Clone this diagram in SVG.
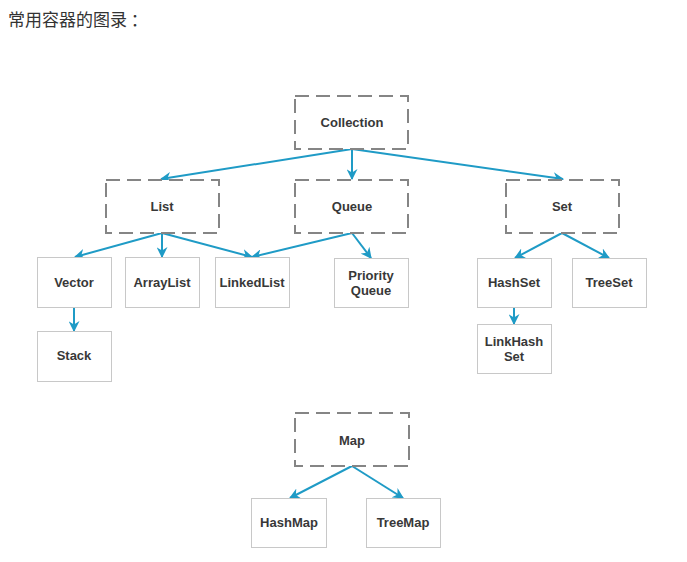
<svg xmlns="http://www.w3.org/2000/svg" width="687" height="562" viewBox="0 0 687 562">
  <style>
    .title { font-family: "Noto Sans CJK SC", "Liberation Sans", sans-serif; font-size: 17px; fill: #333333; }
    .abs { fill: #ffffff; stroke: #858585; stroke-width: 2; stroke-dasharray: 14 7; }
    .cls { fill: #ffffff; stroke: #c8c8c8; stroke-width: 1; }
    .lbl { font-family: "Liberation Sans", Arial, sans-serif; font-size: 13px; font-weight: bold; fill: #383838; text-anchor: middle; }
    .edge { stroke: #1f9bc6; stroke-width: 2; fill: none; marker-end: url(#arrow); }
  </style>
  <defs>
    <marker id="arrow" viewBox="0 0 10 10" refX="9" refY="5" markerWidth="5.5" markerHeight="5.5" orient="auto" markerUnits="strokeWidth">
      <path d="M0,0 L10,5 L0,10 L3,5 z" fill="#1f9bc6"/>
    </marker>
  </defs>
  <rect width="687" height="562" fill="#ffffff"/>
  <text class="title" x="8" y="26">常用容器的图录 ：</text>

  <g id="connectors">
    <line class="edge" x1="352" y1="149" x2="161" y2="179"/>
    <line class="edge" x1="352" y1="149" x2="352" y2="179"/>
    <line class="edge" x1="352" y1="149" x2="563" y2="179"/>
    <line class="edge" x1="162" y1="233" x2="75" y2="257"/>
    <line class="edge" x1="162" y1="233" x2="162" y2="257"/>
    <line class="edge" x1="162" y1="233" x2="252" y2="257"/>
    <line class="edge" x1="352" y1="233" x2="252" y2="257"/>
    <line class="edge" x1="352" y1="233" x2="371" y2="258"/>
    <line class="edge" x1="562" y1="233" x2="515" y2="258"/>
    <line class="edge" x1="562" y1="233" x2="609" y2="258"/>
    <line class="edge" x1="74" y1="307" x2="74" y2="331"/>
    <line class="edge" x1="514" y1="307" x2="514" y2="324"/>
    <line class="edge" x1="352" y1="466" x2="290" y2="498"/>
    <line class="edge" x1="352" y1="466" x2="403" y2="498"/>
  </g>

  <g id="collection"><rect class="abs" x="295" y="96" width="113" height="53"/><text class="lbl" x="352" y="127">Collection</text></g>
  <g id="list"><rect class="abs" x="106" y="180" width="113" height="53"/><text class="lbl" x="162" y="211">List</text></g>
  <g id="queue"><rect class="abs" x="295" y="180" width="113" height="53"/><text class="lbl" x="352" y="211">Queue</text></g>
  <g id="set"><rect class="abs" x="506" y="180" width="113" height="53"/><text class="lbl" x="562" y="211">Set</text></g>

  <g id="vector"><rect class="cls" x="37.5" y="257.5" width="74" height="50"/><text class="lbl" x="74" y="287">Vector</text></g>
  <g id="arraylist"><rect class="cls" x="125.5" y="257.5" width="74" height="50"/><text class="lbl" x="162" y="287">ArrayList</text></g>
  <g id="linkedlist"><rect class="cls" x="215.5" y="257.5" width="74" height="50"/><text class="lbl" x="252" y="287">LinkedList</text></g>
  <g id="stack"><rect class="cls" x="37.5" y="331.5" width="74" height="50"/><text class="lbl" x="74" y="360">Stack</text></g>
  <g id="priorityqueue"><rect class="cls" x="334.5" y="258.5" width="74" height="49"/><text class="lbl" x="371" y="280">Priority</text><text class="lbl" x="371" y="295">Queue</text></g>
  <g id="hashset"><rect class="cls" x="477.5" y="258.5" width="74" height="49"/><text class="lbl" x="514" y="287">HashSet</text></g>
  <g id="treeset"><rect class="cls" x="572.5" y="258.5" width="74" height="49"/><text class="lbl" x="609" y="287">TreeSet</text></g>
  <g id="linkhashset"><rect class="cls" x="477.5" y="324.5" width="74" height="49"/><text class="lbl" x="514" y="346">LinkHash</text><text class="lbl" x="514" y="361">Set</text></g>

  <g id="map"><rect class="abs" x="295" y="413" width="114" height="53"/><text class="lbl" x="352" y="445">Map</text></g>
  <g id="hashmap"><rect class="cls" x="251.5" y="498.5" width="75" height="49"/><text class="lbl" x="289" y="527">HashMap</text></g>
  <g id="treemap"><rect class="cls" x="366.5" y="498.5" width="74" height="49"/><text class="lbl" x="403" y="527">TreeMap</text></g>
</svg>
